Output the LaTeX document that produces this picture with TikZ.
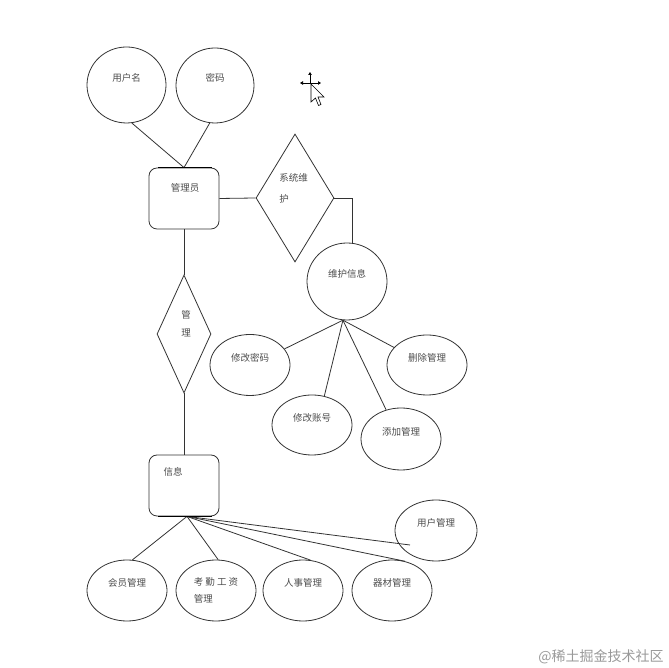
\documentclass[tikz,border=0pt]{standalone}
\usepackage{fontspec}
\newfontfamily\cjk{Noto Sans CJK SC}
\usepackage{tikz}
\usetikzlibrary{shapes.geometric, arrows.meta, calc}
\tikzset{
  entity/.style={rectangle, rounded corners=8pt, draw=black!80,
                 line width=0.8pt, minimum width=70pt, minimum height=61pt,
                 inner sep=0pt},
  relation/.style={diamond, draw=black!80, line width=0.8pt, inner sep=0pt},
  attrbase/.style={ellipse, draw=black!80, line width=0.8pt,
                   minimum width=80pt, minimum height=61pt, inner sep=0pt,
                   font=\cjk\fontsize{9.5}{17}\selectfont, text=black!70},
  attr/.style={attrbase, text height=8pt, text depth=15pt},
  txt/.style={inner sep=0pt, font=\cjk\fontsize{9.5}{11}\selectfont,
              text=black!70},
  link/.style={draw=black!80, line width=0.8pt},
  edgebar/.style={draw=black, line width=1.6pt},
}

\begin{document}
\begin{tikzpicture}[x=1pt, y=1pt]
  \useasboundingbox (0,0) rectangle (668,668);

  % administrator and its attributes
  \node[attr, minimum width=79pt, minimum height=76pt] (yhm) at (126.5,583) {用户名};
  \node[attr, minimum width=78pt, minimum height=75pt] (mm) at (215,582.5) {密码};
  \node[entity] (gly) at (184,469.5) {};
  \node[txt] (glytxt) at ([shift={(1,10.5)}]gly.center) {管理员};

  % system maintenance
  \node[relation, minimum width=78pt, minimum height=128pt] (xtwh) at (295,470) {};
  \node[txt, align=left, font=\cjk\fontsize{9.5}{21}\selectfont] (xtwhtxt)
    at ([shift={(-1.5,9.5)}]xtwh.center) {系统维\\护};
  \node[attr, minimum height=77pt] (whxx) at (347,386.5) {维护信息};
  \node[attr] (xgmm) at (250,303) {修改密码};
  \node[attr, minimum height=60pt] (scgl) at (427,303) {删除管理};
  \node[attr, minimum height=60pt] (xgzh) at (312,243) {修改账号};
  \node[attr, minimum height=62pt] (tjgl) at (401,229) {添加管理};

  % management
  \node[relation, minimum width=54pt, minimum height=118pt] (gl) at (184,334) {};
  \node[txt, align=center, font=\cjk\fontsize{9.5}{18}\selectfont] (gltxt)
    at ([shift={(2,10)}]gl.center) {管\\理};
  \node[entity] (xx) at (184,182.5) {};
  \node[txt] (xxtxt) at ([shift={(-11,13.5)}]xx.center) {信息};

  \node[attr, minimum width=82pt] (yhgl) at (436,137.5) {用户管理};
  \node[attr] (hygl) at (127,77.5) {会员管理};
  \node[attrbase, align=left] (kqgz) at (216,77.5) {考 勤 工 资\\管理};
  \node[attr] (rsgl) at (303,77.5) {人事管理};
  \node[attr] (qcgl) at (392,77.5) {器材管理};

  \coordinate (xxroot) at ([xshift=3]xx.south);
  \coordinate (yhglend) at ([shift={(-26,-14.5)}]yhgl.center);

  % connectors
  \draw[link] (yhm.-82) -- (gly.north);
  \draw[link] (mm.-98) -- (gly.north);
  \draw[link] (gly.east) -- (xtwh.west);
  \draw[link] (xtwh.east) -| (whxx.82);
  \draw[link] (whxx.-96) -- (xgmm.25);
  \draw[link] (whxx.-96) -- (xgzh.67);
  \draw[link] (whxx.-96) -- (tjgl.117);
  \draw[link] (whxx.-96) -- (scgl.152);
  \draw[link] (gly.south) -- (gl.north);
  \draw[link] (gl.south) -- (xx.north);
  \draw[link] (xxroot) -- (hygl.80);
  \draw[link] (xxroot) -- (kqgz.86);
  \draw[link] (xxroot) -- (rsgl.76);
  \draw[link] (xxroot) -- (qcgl.66);
  \draw[link] (xxroot) -- (yhglend);

  % darker box edges
  \draw[edgebar] ([xshift=9]gly.north west) -- ([xshift=-7]gly.north east);
  \draw[edgebar] ([xshift=9]xx.south west) -- ([xshift=-7]xx.south east);

  % mouse pointer
  \draw[line width=0.7pt, -{Triangle[length=3pt,width=3.5pt]}] (310,585) -- (310,596);
  \draw[line width=0.7pt, -{Triangle[length=3pt,width=3.5pt]}] (310,585) -- (300,585);
  \draw[line width=0.7pt, -{Triangle[length=3pt,width=3.5pt]}] (310,585) -- (321,585);
  \draw[line width=0.6pt, fill=white] (311,584) -- ++(0,-18) -- ++(4.5,4) -- ++(3,-7.5)
    -- ++(2.5,1) -- ++(-3,7.5) -- ++(6,0) -- cycle;

  % watermark
  \node[inner sep=0pt, text=black!40, font=\cjk\fontsize{14}{16}\selectfont]
    (mark) at (601,11) {@稀土掘金技术社区};
\end{tikzpicture}
\end{document}
